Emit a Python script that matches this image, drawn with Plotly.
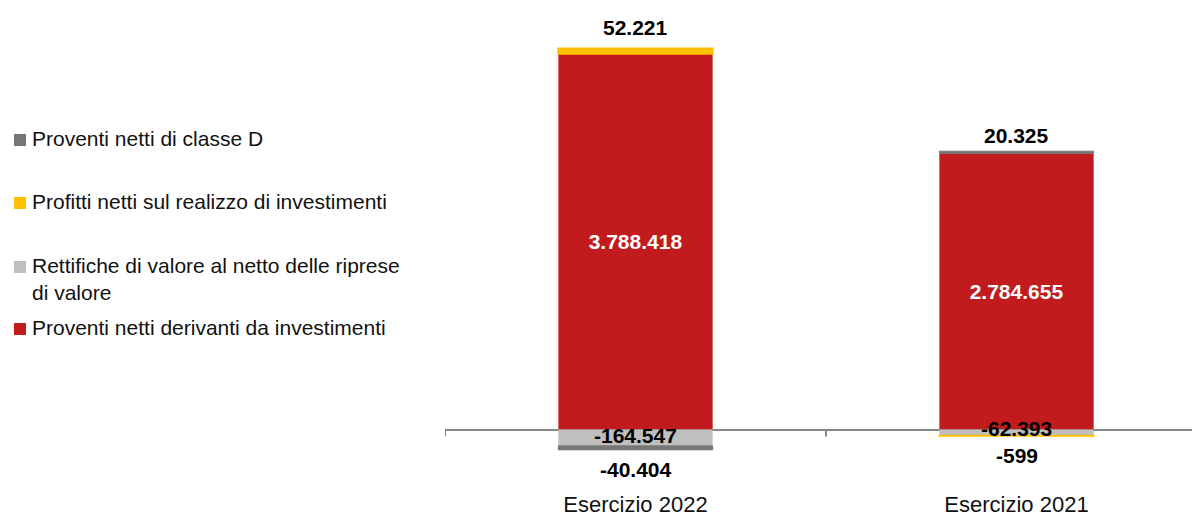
import plotly.graph_objects as go

# ---- data (thousands of euro) ----
categories = ["Esercizio 2022", "Esercizio 2021"]
proventi_investimenti = [3788418, 2784655]
rettifiche_valore = [-164547, -62393]
profitti_realizzo = [52221, -599]
proventi_classe_d = [-40404, 20325]

series_names = [
    "Proventi netti derivanti da investimenti",
    "Rettifiche di valore al netto delle riprese<br>di valore",
    "Profitti netti sul realizzo di investimenti",
    "Proventi netti di classe D",
]
series_values = [proventi_investimenti, rettifiche_valore, profitti_realizzo, proventi_classe_d]
series_colors = ["#C11B1E", "#BFBFBF", "#FFC000", "#767676"]


def fmt(v):
    return f"{v:,}".replace(",", ".")


FONT = "Arial, Liberation Sans, sans-serif"

# plot-area geometry (pixels)
W, H = 1192, 516
M_L, M_R, M_T, M_B = 445, 0, 20, 27
PW, PH = W - M_L - M_R, H - M_T - M_B

fig = go.Figure()

for name, vals, col in zip(series_names, series_values, series_colors):
    is_main = vals is proventi_investimenti
    line_w = 2 if vals is profitti_realizzo else (1 if vals is proventi_classe_d else 0)
    fig.add_trace(go.Bar(
        x=categories,
        y=vals,
        name=name,
        marker=dict(color=col, line=dict(color=col, width=line_w)),
        text=[fmt(v) for v in vals] if is_main else None,
        textposition="inside" if is_main else "none",
        insidetextanchor="middle",
        textfont=dict(family=FONT, size=21, color="white", weight="bold"),
        width=0.405,
        showlegend=False,
        hoverinfo="x+y+name",
    ))

# value labels for the thin segments
annotations = []
for i, cat in enumerate(categories):
    pos_top = sum(v[i] for v in series_values if v[i] > 0)
    neg_bottom = sum(v[i] for v in series_values if v[i] < 0)
    r = rettifiche_valore[i]
    annotations.append(dict(
        x=cat, y=r / 2, text=f"<b>{fmt(r)}</b>", showarrow=False,
        yanchor="middle", yshift=2 if i == 0 else 4,
        font=dict(family=FONT, size=21, color="black"),
    ))
    for vals in (profitti_realizzo, proventi_classe_d):
        v = vals[i]
        if v > 0:
            annotations.append(dict(
                x=cat, y=pos_top, text=f"<b>{fmt(v)}</b>", showarrow=False,
                yanchor="middle", yshift=21 if i == 0 else 16,
                font=dict(family=FONT, size=21, color="black"),
            ))
        else:
            annotations.append(dict(
                x=cat, y=neg_bottom, text=f"<b>{fmt(v)}</b>", showarrow=False,
                yanchor="middle", yshift=-20,
                font=dict(family=FONT, size=21, color="black"),
            ))

# legend drawn at the left, top-to-bottom in reverse stacking order
legend_rows = [  # (series index, centre of first text line in px)
    (3, 138),
    (2, 201),
    (1, 265),
    (0, 327),
]
shapes = []
for idx, py in legend_rows:
    yp = (H - M_B - py) / PH
    annotations.append(dict(
        xref="paper", yref="paper",
        x=(30 - M_L) / PW, y=yp + 13 / PH,
        xanchor="left", yanchor="top", align="left",
        text=series_names[idx], showarrow=False,
        font=dict(family=FONT, size=21, color="#111111"),
    ))
    shapes.append(dict(
        type="rect", xref="paper", yref="paper",
        x0=(14 - M_L) / PW, x1=(26 - M_L) / PW,
        y0=yp - 2 / PH - 6 / PH, y1=yp - 2 / PH + 6 / PH,
        fillcolor=series_colors[idx], line=dict(width=0),
    ))

# category boundary ticks on the zero line
for xb in (-0.5, 0.5, 1.5):
    shapes.append(dict(
        type="line", xref="x", yref="y", ysizemode="pixel", yanchor=0,
        x0=xb, x1=xb, y0=0, y1=-7,
        line=dict(color="#888888", width=2),
    ))

fig.update_layout(
    width=W, height=H,
    margin=dict(l=M_L, r=M_R, t=M_T, b=M_B),
    barmode="relative",
    plot_bgcolor="white", paper_bgcolor="white",
    font=dict(family=FONT),
    annotations=annotations,
    shapes=shapes,
    xaxis=dict(
        range=[-0.5, 1.4606], showgrid=False, showline=False, ticks="",
        tickfont=dict(family=FONT, size=22, color="#111111"),
        automargin=False, fixedrange=True,
    ),
    yaxis=dict(
        range=[-599800, 4128000], showgrid=False, showticklabels=False,
        zeroline=True, zerolinecolor="#888888", zerolinewidth=2,
        showline=False, ticks="", automargin=False, fixedrange=True,
    ),
)

fig.write_html("out.html")
